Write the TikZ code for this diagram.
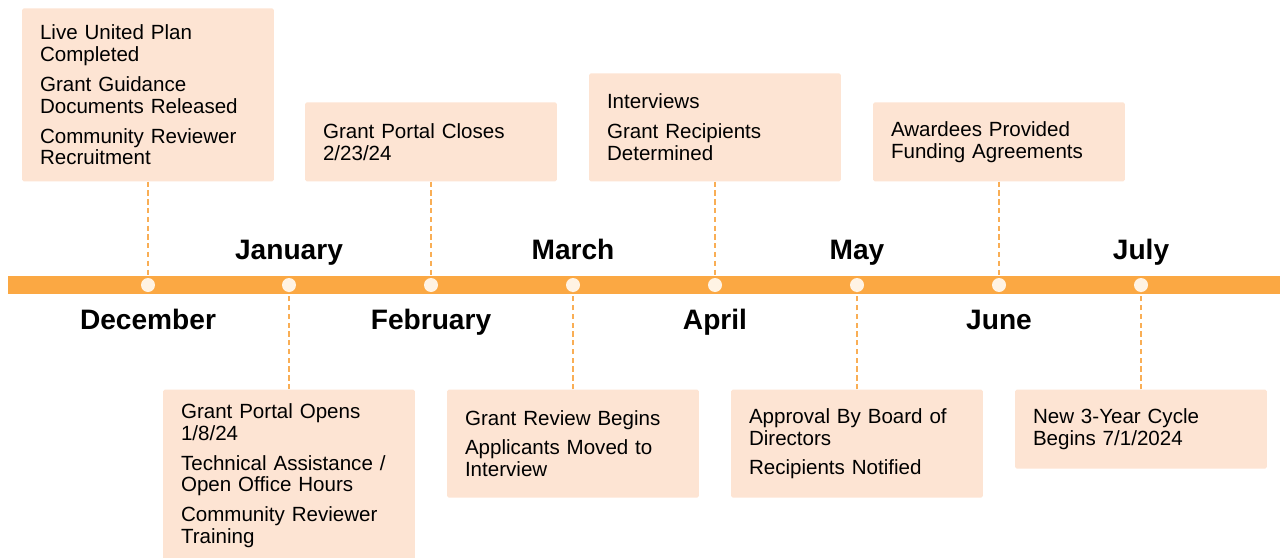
\documentclass[tikz,border=0pt]{standalone}
\usepackage{fontspec}
\setmainfont{Liberation Sans}
\usetikzlibrary{positioning}

\definecolor{barorange}{HTML}{FBA843}
\definecolor{dotcream}{HTML}{FFF3E4}
\definecolor{boxpeach}{HTML}{FDE4D3}
\definecolor{linkorange}{HTML}{F9AE55}

\tikzset{
  dot/.style={circle, fill=dotcream, minimum size=0.28cm, inner sep=0pt},
  month/.style={font=\fontsize{16}{19}\selectfont\bfseries, inner sep=0pt, anchor=base},
  event/.style={fill=boxpeach, rounded corners=1pt,
    text width=4.32cm, inner xsep=0.36cm, inner ysep=0pt,
    minimum width=5.04cm, align=left,
    font=\fontsize{11.7}{12.5}\selectfont},
  link/.style={draw=linkorange, line width=0.8pt, dash pattern=on 3pt off 2pt},
}

\begin{document}
\begin{tikzpicture}[x=0.02cm, y=-0.02cm]
  \useasboundingbox (0,0) rectangle (1282,558);
  \fill[barorange] (8,276) rectangle (1280,294);

  \foreach \name/\x in {dec/148, jan/289, feb/431, mar/573, apr/715, may/857, jun/999, jul/1141}
    \node[dot] (\name) at (\x,285) {};

  \node[month] (declabel) at (148,329) {December};
  \node[month] (janlabel) at (289,259) {January};
  \node[month] (feblabel) at (431,329) {February};
  \node[month] (marlabel) at (573,259) {March};
  \node[month] (aprlabel) at (715,329) {April};
  \node[month] (maylabel) at (857,259) {May};
  \node[month] (junlabel) at (999,329) {June};
  \node[month] (jullabel) at (1141,259) {July};

  % above the line
  \node[event, minimum height=3.46cm, above=1.92cm of dec] (decbox)
    {Live United Plan\\Completed\\[4.5pt]Grant Guidance\\Documents Released\\[4.5pt]Community Reviewer\\Recruitment};
  \node[event, minimum height=1.58cm, above=1.92cm of feb] (febbox)
    {Grant Portal Closes\\2/23/24};
  \node[event, minimum height=2.16cm, above=1.92cm of apr] (aprbox)
    {Interviews\\[4.5pt]Grant Recipients\\Determined};
  \node[event, minimum height=1.58cm, above=1.92cm of jun] (junbox)
    {Awardees Provided\\Funding Agreements};

  % below the line
  \node[event, minimum height=3.44cm, below=1.94cm of jan] (janbox)
    {Grant Portal Opens\\1/8/24\\[4.5pt]Technical Assistance /\\Open Office Hours\\[4.5pt]Community Reviewer\\Training};
  \node[event, minimum height=2.16cm, below=1.94cm of mar] (marbox)
    {Grant Review Begins\\[4.5pt]Applicants Moved to\\Interview};
  \node[event, minimum height=2.16cm, below=1.94cm of may] (maybox)
    {Approval By Board of\\Directors\\[4.5pt]Recipients Notified};
  \node[event, minimum height=1.58cm, below=1.94cm of jul] (julbox)
    {New 3-Year Cycle\\Begins 7/1/2024};

  \draw[link] (decbox) -- (dec);
  \draw[link] (febbox) -- (feb);
  \draw[link] (aprbox) -- (apr);
  \draw[link] (junbox) -- (jun);
  \draw[link] (janbox) -- (jan);
  \draw[link] (marbox) -- (mar);
  \draw[link] (maybox) -- (may);
  \draw[link] (julbox) -- (jul);
\end{tikzpicture}
\end{document}
